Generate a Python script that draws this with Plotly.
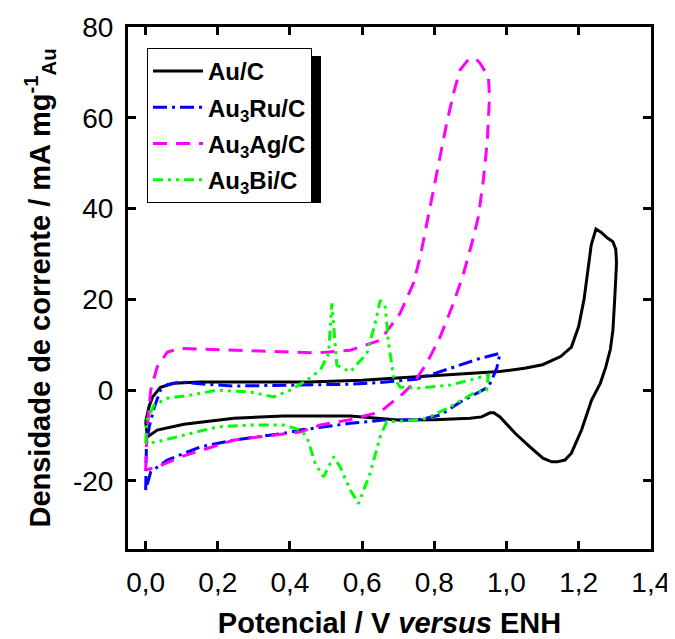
import plotly.graph_objects as go

# ---------------- data ----------------
x_ticks = [0.0, 0.2, 0.4, 0.6, 0.8, 1.0, 1.2, 1.4]
x_tick_labels = ["0,0", "0,2", "0,4", "0,6", "0,8", "1,0", "1,2", "1,4"]
y_ticks = [-20, 0, 20, 40, 60, 80]
y_tick_labels = ["-20", "0", "20", "40", "60", "80"]

series_names = ["Au/C", "Au<sub>3</sub>Ru/C", "Au<sub>3</sub>Ag/C", "Au<sub>3</sub>Bi/C"]

au_x = [0.000, 0.009, 0.019, 0.041, 0.077, 0.15, 0.30, 0.45, 0.60, 0.705, 0.80, 0.90, 0.98,
        1.05, 1.10, 1.15, 1.18, 1.20, 1.215, 1.225, 1.235, 1.248, 1.262, 1.28, 1.295, 1.303,
        1.305, 1.300, 1.295, 1.288, 1.275, 1.26, 1.236, 1.208, 1.18, 1.162, 1.14, 1.125, 1.101,
        1.065, 1.024, 0.982, 0.965, 0.954, 0.94, 0.931, 0.899, 0.80, 0.70, 0.567, 0.383,
        0.245, 0.106, 0.032, 0.005, 0.000]
au_y = [-7.0, -3.7, -1.5, 0.6, 1.5, 1.8, 1.8, 1.8, 2.2, 2.7, 3.2, 3.7, 4.1,
        4.8, 5.6, 7.4, 9.5, 14.0, 20.0, 26.0, 32.0, 35.5, 34.8, 33.5, 32.7, 31.0,
        28.0, 20.0, 13.2, 9.0, 5.0, 1.5, -2.2, -8.8, -13.9, -15.4, -15.8, -15.8, -15.0,
        -12.5, -9.5, -5.9, -5.0, -5.0, -5.5, -5.9, -6.2, -6.5, -6.6, -5.7, -5.7,
        -6.2, -7.5, -8.8, -10.3, -7.0]

ru_x = [0.000, 0.002, 0.010, 0.023, 0.041, 0.060, 0.097, 0.15, 0.245, 0.40, 0.567, 0.65,
        0.751, 0.844, 0.927, 0.982, 0.973, 0.959, 0.95, 0.92, 0.881, 0.816, 0.751, 0.659,
        0.567, 0.429, 0.383, 0.245, 0.152, 0.060, 0.014, 0.000]
ru_y = [-22.0, -12.0, -8.0, -4.0, 0.0, 1.2, 1.8, 1.4, 0.9, 1.1, 1.3, 1.7,
        2.4, 4.8, 7.0, 8.1, 4.8, 2.2, 0.7, -0.6, -2.2, -5.5, -6.6, -6.6,
        -7.3, -8.8, -9.5, -11.0, -12.5, -15.4, -18.0, -22.0]

ag_x = [0.000, 0.003, 0.008, 0.014, 0.032, 0.060, 0.097, 0.245, 0.429, 0.475, 0.567, 0.65,
        0.705, 0.742, 0.761, 0.779, 0.797, 0.816, 0.834, 0.853, 0.871, 0.894, 0.915, 0.927,
        0.95, 0.953, 0.947, 0.936, 0.922, 0.904, 0.881, 0.853, 0.816, 0.779, 0.742, 0.714,
        0.65, 0.567, 0.484, 0.429, 0.245, 0.097, 0.032, 0.000]
ag_y = [-17.6, -10.0, -5.1, 0.0, 5.1, 8.4, 9.2, 8.8, 8.2, 8.2, 8.8, 11.0,
        16.9, 23.5, 29.4, 36.7, 44.0, 51.4, 58.7, 65.3, 70.5, 72.8, 73.0, 72.0,
        69.0, 64.6, 55.0, 46.3, 38.2, 32.3, 25.7, 19.1, 11.7, 5.9, 1.5, -0.7,
        -4.8, -6.5, -7.7, -9.2, -11.0, -14.7, -16.9, -17.6]

bi_x = [0.000, 0.003, 0.023, 0.060, 0.124, 0.198, 0.29, 0.355, 0.401, 0.447, 0.484, 0.507,
        0.516, 0.522, 0.526, 0.530, 0.567, 0.613, 0.636, 0.65, 0.664, 0.673, 0.687, 0.705,
        0.751, 0.844, 0.95, 0.945, 0.908, 0.844, 0.779, 0.751, 0.668, 0.65, 0.622, 0.59,
        0.567, 0.539, 0.521, 0.493, 0.47, 0.447, 0.429, 0.383, 0.29, 0.198, 0.106, 0.032,
        0.000]
bi_y = [-11.7, -6.6, -3.3, -1.8, -1.1, 0.0, -0.4, -1.5, 0.0, 2.2, 4.4, 8.1,
        19.1, 14.0, 9.5, 5.5, 4.0, 8.1, 14.7, 19.8, 18.3, 10.6, 2.9, 0.7,
        0.4, 1.1, 3.3, 0.0, -0.7, -3.7, -6.2, -6.6, -7.0, -10.3, -18.3, -25.0,
        -22.0, -16.9, -14.7, -19.1, -16.2, -10.3, -8.8, -7.7, -7.7, -8.1, -9.9, -11.4,
        -11.7]

# ---------------- styles ----------------
colors = ["#000000", "#0000FF", "#FF00FF", "#00FF00"]
dashes = ["solid", "14px,5px,3px,5px", "14px,9px", "10px,5px,3px,5px,3px,5px"]
FONT = "Liberation Sans, Arial, sans-serif"

# figure size accounts for the 8px page margin of the html body
W, H = 667, 631
ML, MR, MT, MB = 120, 24, 19, 90
PW, PH = W - ML - MR, H - MT - MB

fig = go.Figure()
all_x = [au_x, ru_x, ag_x, bi_x]
all_y = [au_y, ru_y, ag_y, bi_y]
for i, (xs, ys) in enumerate(zip(all_x, all_y)):
    fig.add_trace(go.Scatter(
        x=xs, y=ys, mode="lines", name=series_names[i],
        legendgroup="g%d" % i,
        line=dict(color=colors[i], width=3, dash=dashes[i]),
    ))

axis_common = dict(
    showline=True, linecolor="black", linewidth=3, mirror="ticks",
    ticks="inside", ticklen=8, tickwidth=2.5, tickcolor="black",
    showgrid=False, zeroline=False, ticklabeloverflow="allow",
    tickfont=dict(family=FONT, size=28, color="black"),
)

fig.update_xaxes(
    range=[-0.049, 1.4006], tickvals=x_ticks, ticktext=x_tick_labels,
    title=dict(text="Potencial / V <i>versus</i> ENH",
               font=dict(family=FONT, size=29, color="black", weight="bold"),
               standoff=28),
    ticklabelstandoff=6,
    **axis_common,
)
fig.update_yaxes(
    range=[-35, 80], tickvals=y_ticks, ticktext=y_tick_labels,
    title=dict(text="Densidade de corrente / mA mg<sup>-1</sup><sub>Au</sub>",
               font=dict(family=FONT, size=29, color="black", weight="bold"),
               standoff=14),
    ticklabelstandoff=6,
    **axis_common,
)

# legend box (pixels inside the plot area) and its drop shadow
leg_left, leg_top, leg_w, leg_h, shadow = 19, 21, 166, 147, 8
fig.add_shape(type="rect", xref="paper", yref="paper",
              x0=(leg_left + shadow) / PW, x1=(leg_left + leg_w + shadow) / PW,
              y0=1 - (leg_top + leg_h + shadow) / PH, y1=1 - (leg_top + shadow) / PH,
              fillcolor="black", line=dict(width=0), layer="above")

fig.update_layout(
    width=W, height=H,
    margin=dict(l=ML, r=MR, t=MT, b=MB, autoexpand=False),
    paper_bgcolor="white", plot_bgcolor="white",
    showlegend=True,
    legend=dict(
        x=leg_left / PW, y=1 - leg_top / PH, xanchor="left", yanchor="top",
        bgcolor="white", bordercolor="black", borderwidth=1,
        font=dict(family=FONT, size=24, color="black", weight="bold"),
        tracegroupgap=2, itemwidth=50,
    ),
)

fig.write_html("out.html")
